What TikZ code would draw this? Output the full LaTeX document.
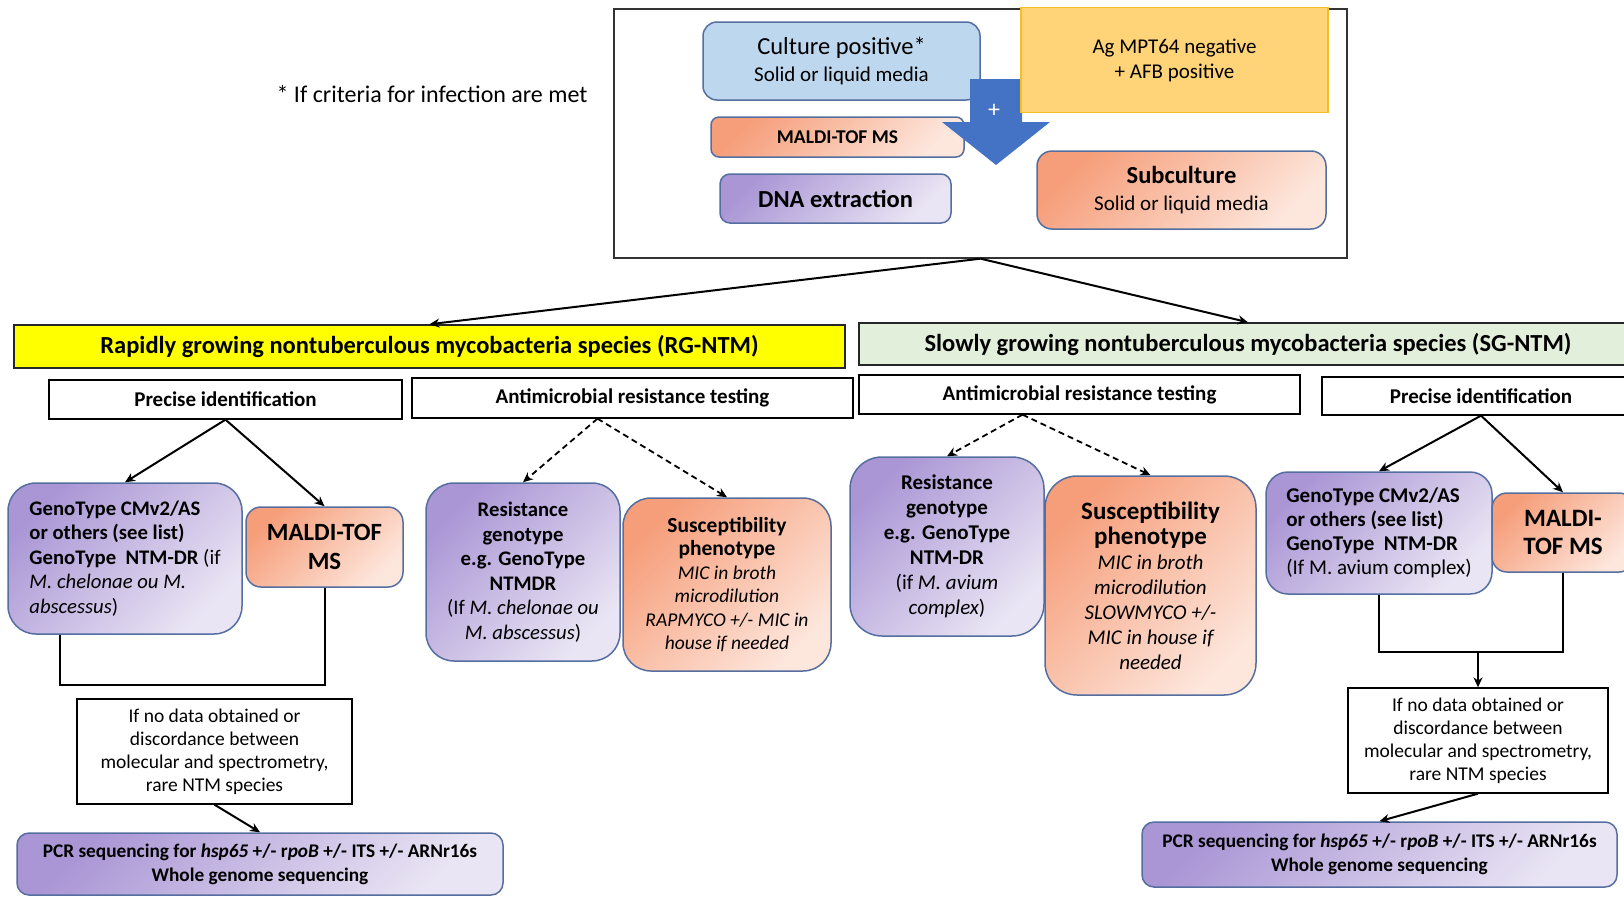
\documentclass[tikz,border=0pt]{standalone}
\usepackage{fontspec}
\setmainfont{Carlito}
\usepackage{tikz}
\usetikzlibrary{arrows.meta,calc}

\newcommand{\fsz}[2]{\fontsize{#1pt}{#2pt}\selectfont}

\definecolor{edgeblue}{RGB}{84,110,160}
\definecolor{culturefill}{RGB}{189,215,238}
\definecolor{agfill}{RGB}{255,212,120}
\definecolor{agedge}{RGB}{245,190,40}
\definecolor{arrowblue}{RGB}{68,114,196}
\definecolor{orangeA}{RGB}{246,158,122}
\definecolor{orangeB}{RGB}{253,230,220}
\definecolor{purpleA}{RGB}{170,150,213}
\definecolor{purpleB}{RGB}{234,229,244}
\definecolor{rgyellow}{RGB}{255,255,0}
\definecolor{sggreen}{RGB}{226,239,218}

\tikzset{
  box/.style={draw=edgeblue, line width=1.5pt, inner sep=0pt, align=center},
  orangebox/.style={box, top color=orangeA, bottom color=orangeB, shading angle=45},
  purplebox/.style={box, top color=purpleA, bottom color=purpleB, shading angle=45},
  banner/.style={draw=black!85, line width=1.5pt, inner sep=0pt, font=\fsz{24.5}{28}\bfseries},
  headbox/.style={draw=black, line width=1.3pt, fill=white, inner sep=0pt, font=\fsz{21}{25}\bfseries},
  notebox/.style={draw=black, line width=1.3pt, fill=white, inner sep=0pt, align=center, font=\fsz{19.5}{23}},
  link/.style={->, line width=2pt},
  dlink/.style={->, line width=1.8pt, dash pattern=on 6pt off 4pt},
}

\begin{document}
\begin{tikzpicture}[x=1pt, y=-1pt, >={Stealth[length=10pt,width=9pt]}]
    \useasboundingbox (0,0) rectangle (1624,897);
    \clip (0,0) rectangle (1624,897);

    % starting material
    \node[draw=black!80, line width=1.3pt, minimum width=733pt, minimum height=249pt, inner sep=0pt] (topframe) at (980.5,133.5) {};
    \node[font=\fsz{24}{28}] (criteria) at (432,94) {* If criteria for infection are met};
    \node[box, fill=culturefill, rounded corners=14pt, minimum width=277pt, minimum height=78pt, font=\fsz{21}{27}] (culture) at (841.5,61)
        {{\fsz{24.5}{27}Culture positive*}\\Solid or liquid media};
    \node[orangebox, rounded corners=8pt, minimum width=253pt, minimum height=40pt, font=\fsz{19.5}{22}\bfseries] (maldism) at (837.5,137) {MALDI-TOF MS};
    \node[purplebox, rounded corners=10pt, minimum width=231pt, minimum height=49pt, font=\fsz{24.5}{28}\bfseries] (dna) at (835.5,198.5) {DNA extraction};
    \fill[arrowblue] (970,79) -- (1022,79) -- (1022,122) -- (1050,122) -- (996,165) -- (942,122) -- (970,122) -- cycle;
    \node[text=white, font=\fsz{24}{24}] (plus) at (994,111) {+};
    \node[draw=agedge, line width=1.5pt, fill=agfill, inner sep=0pt, align=center, minimum width=307pt, minimum height=105pt, font=\fsz{21}{25}] (ag) at (1174.5,60)
        {Ag MPT64 negative\\+ AFB positive};
    \node[orangebox, rounded corners=15pt, minimum width=289pt, minimum height=78pt, font=\fsz{21}{27}] (subcult) at (1181.5,190)
        {{\fsz{24.5}{27}\bfseries Subculture}\\Solid or liquid media};

    % two branches
    \node[banner, fill=rgyellow, minimum width=831pt, minimum height=43pt] (rgbanner) at (429.5,346.5)
        {Rapidly growing nontuberculous mycobacteria species (RG-NTM)};
    \node[banner, fill=sggreen, minimum width=778pt, minimum height=42pt] (sgbanner) at (1248,344)
        {Slowly growing nontuberculous mycobacteria species (SG-NTM)};
    \node[headbox, minimum width=353pt, minimum height=39pt] (precL) at (225.5,399.5) {Precise identification};
    \node[headbox, minimum width=441pt, minimum height=40pt] (amrL) at (632.5,398) {Antimicrobial resistance testing};
    \node[headbox, minimum width=441pt, minimum height=39pt] (amrR) at (1079.5,394.5) {Antimicrobial resistance testing};
    \node[headbox, minimum width=318pt, minimum height=38pt] (precR) at (1481,396) {Precise identification};

    % RG-NTM boxes
    \node[purplebox, rounded corners=28pt, minimum width=234pt, minimum height=151pt, align=left, font=\fsz{20.7}{24.5}\bfseries] (genoL) at (125,558.5)
        {GenoType CMv2/AS\\or others (see list)\\GenoType\ \ NTM-DR {\mdseries(if}\\{\mdseries\itshape M. chelonae ou M.}\\{\mdseries\itshape abscessus}{\mdseries)}};
    \node[orangebox, rounded corners=15pt, minimum width=157pt, minimum height=80pt, font=\fsz{24.8}{29}\bfseries] (maldiL) at (324.5,547) {MALDI-TOF\\MS};
    \node[purplebox, rounded corners=28pt, minimum width=194pt, minimum height=178pt, font=\fsz{20.7}{24.5}\bfseries] (resL) at (523,572)
        {Resistance\\genotype\\e.g. GenoType\\NTMDR\\{\mdseries(If \itshape M. chelonae ou}\\{\mdseries\itshape M. abscessus}{\mdseries)}};
    \node[orangebox, rounded corners=28pt, minimum width=208pt, minimum height=173pt, font=\fsz{19.5}{23.5}\itshape] (susL) at (727,584.5)
        {{\upshape\bfseries\fsz{21.5}{23.5}Susceptibility}\\{\upshape\bfseries\fsz{21.5}{23.5}phenotype}\\MIC in broth\\microdilution\\RAPMYCO +/- MIC in\\house if needed};
    \node[notebox, minimum width=275pt, minimum height=105pt] (nodataL) at (214.5,751.5)
        {If no data obtained or\\discordance between\\molecular and spectrometry,\\rare NTM species};
    \node[purplebox, rounded corners=12pt, minimum width=486pt, minimum height=62pt, font=\fsz{19.3}{24}\bfseries] (pcrL) at (260,864)
        {PCR sequencing for \textit{hsp65} +/- r\textit{poB} +/- ITS +/- ARNr16s\\Whole genome sequencing};

    % SG-NTM boxes
    \node[purplebox, rounded corners=32pt, minimum width=194pt, minimum height=179pt, font=\fsz{21}{25}\bfseries] (resR) at (947,546.5)
        {Resistance\\genotype\\e.g. GenoType\\NTM-DR\\{\mdseries(if \itshape M. avium}\\{\mdseries\itshape complex}{\mdseries)}};
    \node[orangebox, rounded corners=32pt, minimum width=211pt, minimum height=219pt, font=\fsz{21}{25}\itshape] (susR) at (1150.5,585.5)
        {{\upshape\bfseries\fsz{25}{28}Susceptibility}\\{\upshape\bfseries\fsz{25}{28}phenotype}\\MIC in broth\\microdilution\\SLOWMYCO +/-\\MIC in house if\\needed};
    \node[purplebox, rounded corners=22pt, minimum width=226pt, minimum height=122pt, align=left, font=\fsz{21}{24}\bfseries] (genoR) at (1379,533)
        {GenoType CMv2/AS\\or others (see list)\\GenoType\ \ NTM-DR\\{\mdseries(If M. avium complex)}};
    \node[orangebox, rounded corners=15pt, minimum width=142pt, minimum height=79pt, font=\fsz{25}{28}\bfseries] (maldiR) at (1563,532.5) {MALDI-\\TOF MS};
    \node[notebox, minimum width=260pt, minimum height=105pt] (nodataR) at (1478,740.5)
        {If no data obtained or\\discordance between\\molecular and spectrometry,\\rare NTM species};
    \node[purplebox, rounded corners=12pt, minimum width=475pt, minimum height=65pt, font=\fsz{19.3}{24}\bfseries] (pcrR) at (1379.5,854.5)
        {PCR sequencing for \textit{hsp65} +/- r\textit{poB} +/- ITS +/- ARNr16s\\Whole genome sequencing};

    % connectors
    \draw[link] (topframe.south) -- (rgbanner.north);
    \draw[link] (topframe.south) -- (sgbanner.north);
    \draw[link] (precL.south) -- (genoL.north);
    \draw[link] (precL.south) -- (maldiL.north);
    \draw[dlink] ([xshift=-35pt]amrL.south) -- (resL.north);
    \draw[dlink] ([xshift=-35pt]amrL.south) -- (susL.north);
    \draw[dlink] ([xshift=-57pt]amrR.south) -- (resR.north);
    \draw[dlink] ([xshift=-57pt]amrR.south) -- (susR.north);
    \draw[link] (precR.south) -- (genoR.north);
    \draw[link] (precR.south) -- (maldiR.north);
    \draw[line width=2pt] ([xshift=-65pt]genoL.south) -- ++(0,50) -| (maldiL.south);
    \draw[line width=2pt] (genoR.south) -- ++(0,57) -| (maldiR.south);
    \coordinate (joinR) at (1478,651);
    \draw[link] (joinR) -- (joinR |- nodataR.north);
    \draw[link] (nodataL.south) -- (pcrL.north);
    \draw[link] (nodataR.south) -- (pcrR.north);
\end{tikzpicture}
\end{document}
